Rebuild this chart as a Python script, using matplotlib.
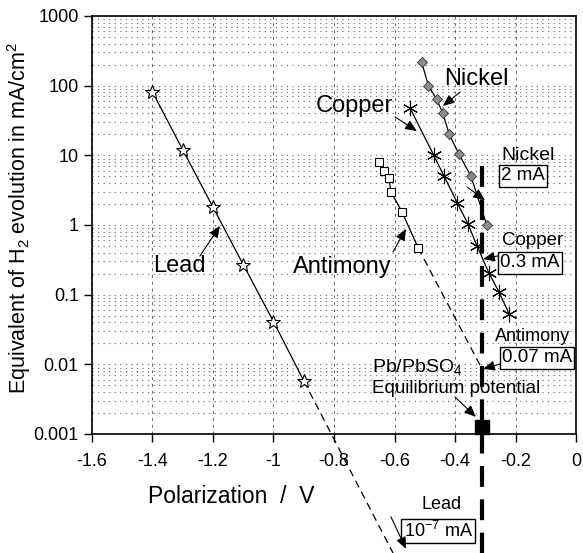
import numpy as np
import matplotlib
matplotlib.use("Agg")
import matplotlib.pyplot as plt
from matplotlib.ticker import FixedLocator, LogLocator, NullFormatter

plt.rcParams["font.family"] = ["Liberation Sans", "DejaVu Sans"]
plt.rcParams["mathtext.fontset"] = "custom"
plt.rcParams["mathtext.rm"] = "Liberation Sans"
plt.rcParams["mathtext.default"] = "regular"

# measured points (polarization in V, current in mA/cm2)
lead_v = [-1.4, -1.3, -1.2, -1.1, -1.0, -0.9]
lead_i = [81, 12, 1.8, 0.27, 0.041, 0.0058]
lead_extrap_v = [-0.9, -0.57]
lead_extrap_i = [0.0058, 1.0e-5]

sb_v = [-0.651, -0.635, -0.618, -0.612, -0.575, -0.522]
sb_i = [8.0, 6.0, 4.7, 3.0, 1.54, 0.47]
sb_extrap_v = [-0.522, -0.31]
sb_extrap_i = [0.47, 0.0085]

cu_v = [-0.549, -0.471, -0.436, -0.393, -0.357, -0.327, -0.288, -0.255, -0.221]
cu_i = [48, 10.2, 5.0, 2.1, 1.03, 0.50, 0.205, 0.11, 0.053]

ni_v = [-0.510, -0.488, -0.461, -0.441, -0.419, -0.387, -0.348, -0.295]
ni_i = [216, 100, 64, 41, 20, 10.4, 5.1, 1.0]

eq_v = -0.31          # Pb/PbSO4 equilibrium potential
eq_line_i = [7.0, 1e-6]

x_ticks = [-1.6, -1.4, -1.2, -1.0, -0.8, -0.6, -0.4, -0.2, 0.0]
x_labels = ["-1.6", "-1.4", "-1.2", "-1", "-0.8", "-0.6", "-0.4", "-0.2", "0"]
y_ticks = [0.001, 0.01, 0.1, 1, 10, 100, 1000]
y_labels = ["0.001", "0.01", "0.1", "1", "10", "100", "1000"]

fig = plt.figure(figsize=(5.83, 5.53), dpi=100)
ax = fig.add_axes([0.1578, 0.2152, 0.8302, 0.7559])
ax.set_yscale("log")
ax.set_xlim(-1.6, 0)
ax.set_ylim(0.001, 1000)

ax.xaxis.set_major_locator(FixedLocator(x_ticks))
ax.set_xticklabels(x_labels)
ax.yaxis.set_major_locator(FixedLocator(y_ticks))
ax.set_yticklabels(y_labels)
ax.yaxis.set_minor_locator(LogLocator(base=10, subs=np.arange(2, 10)))
ax.yaxis.set_minor_formatter(NullFormatter())
ax.tick_params(which="major", length=6, width=1, labelsize=13, direction="out")
ax.tick_params(which="minor", length=0)
ax.tick_params(axis="x", pad=8)

ax.grid(axis="y", which="both", color="0.4", linestyle=(0, (1, 4)), linewidth=0.8)
ax.grid(axis="x", which="major", color="0.4", linestyle=(0, (3, 4)), linewidth=0.7)
for s in ax.spines.values():
    s.set_linewidth(1.2)

ax.set_xlabel("Polarization  /  V", fontsize=16.5)
ax.xaxis.set_label_coords(0.287, -0.122)
ax.set_ylabel("Equivalent of H$_2$ evolution in mA/cm$^2$", fontsize=15.5)
ax.yaxis.set_label_coords(-0.122, 0.517)

# curves
ax.plot(lead_v, lead_i, color="black", lw=0.9, marker="*", ms=10,
        mfc="white", mec="black", mew=0.8, zorder=4)
ax.plot(lead_extrap_v, lead_extrap_i, color="black", lw=0.9,
        linestyle=(0, (6, 4)), clip_on=False, zorder=3)
ax.plot(sb_v, sb_i, color="black", lw=0.9, marker="s", ms=5.5,
        mfc="white", mec="black", mew=0.8, zorder=4)
ax.plot(sb_extrap_v, sb_extrap_i, color="black", lw=0.9,
        linestyle=(0, (6, 4)), zorder=3)
ax.plot(cu_v, cu_i, color="black", lw=0.9, marker=(6, 2, 0), ms=11,
        mec="black", mew=0.8, zorder=4)
ax.plot(ni_v, ni_i, color="black", lw=0.9, marker="D", ms=5.5,
        mfc="0.55", mec="0.2", mew=0.6, zorder=4)

# equilibrium potential
ax.plot([eq_v, eq_v], eq_line_i, color="black", lw=3,
        linestyle=(0, (5, 3)), clip_on=False, zorder=5)
ax.plot([eq_v], [0.00128], marker="s", ms=10, color="black",
        clip_on=False, zorder=6)

arrow = dict(arrowstyle="-|>,head_length=0.7,head_width=0.3",
             color="black", lw=0.8, shrinkA=0, shrinkB=0)
boxed = dict(boxstyle="square,pad=0.12", fc="white", ec="black", lw=1)

def label(text, x, y, size, box=False, ha="center"):
    ax.text(x, y, text, fontsize=size, ha=ha, va="center", zorder=7,
            bbox=boxed if box else None, clip_on=False)

def pointer(tail, head):
    ax.annotate("", xy=head, xytext=tail, arrowprops=arrow,
                annotation_clip=False, zorder=7)

label("Lead", -1.312, 0.258, 17)
pointer((-1.243, 0.36), (-1.177, 0.97))
label("Copper", -0.734, 51, 17)
pointer((-0.598, 35.5), (-0.526, 22.3))
label("Nickel", -0.331, 124, 17)
pointer((-0.383, 81), (-0.440, 51))
label("Antimony", -0.774, 0.25, 17)
pointer((-0.605, 0.41), (-0.562, 0.88))

label("Nickel", -0.159, 9.8, 14)
label("2 mA", -0.175, 5.05, 13.5, box=True)
pointer((-0.360, 3.5), (-0.301, 2.28))
label("Copper", -0.145, 0.59, 13.5)
label("0.3 mA", -0.152, 0.285, 13.5, box=True)
pointer((-0.258, 0.36), (-0.307, 0.325))
label("Antimony", -0.145, 0.0247, 13)
label("0.07 mA", -0.129, 0.0124, 13.5, box=True)
pointer((-0.251, 0.0101), (-0.307, 0.0086))
label("Pb/PbSO$_4$", -0.674, 0.0092, 14, ha="left")
label("Equilibrium potential", -0.674, 0.00444, 13.5, ha="left")
pointer((-0.400, 0.0034), (-0.331, 0.00176))
label("Lead", -0.446, 9.6e-5, 13)
label("10$^{-7}$ mA", -0.456, 4.07e-5, 13, box=True)
pointer((-0.612, 6.5e-5), (-0.562, 2.25e-5))

fig.savefig("out.png", dpi=100)
